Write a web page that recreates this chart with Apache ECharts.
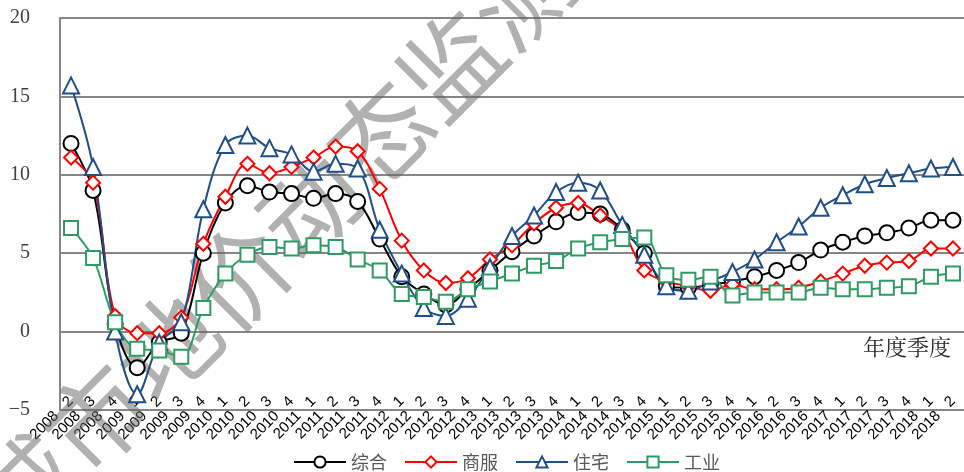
<!DOCTYPE html>
<html>
<head>
<meta charset="utf-8">
<script src="https://cdn.jsdelivr.net/npm/echarts@6/dist/echarts.min.js"></script>
<style>
  html, body { margin: 0; padding: 0; background: #fff; }
  #chart { width: 964px; height: 472px; }
</style>
</head>
<body>
<div id="chart"></div>
<script>
// 季度标签
const quarters = [
  '2008   2', '2008   3', '2008   4',
  '2009   1', '2009   2', '2009   3', '2009   4',
  '2010   1', '2010   2', '2010   3', '2010   4',
  '2011   1', '2011   2', '2011   3', '2011   4',
  '2012   1', '2012   2', '2012   3', '2012   4',
  '2013   1', '2013   2', '2013   3', '2013   4',
  '2014   1', '2014   2', '2014   3', '2014   4',
  '2015   1', '2015   2', '2015   3', '2015   4',
  '2016   1', '2016   2', '2016   3', '2016   4',
  '2017   1', '2017   2', '2017   3', '2017   4',
  '2018   1', '2018   2'
];

// 各用途地价增长率
const zonghe = [12.0, 9.0, 0.5, -2.3, -0.7, -0.1, 5.0, 8.2, 9.3, 8.9, 8.8, 8.5, 8.8, 8.3, 5.9, 3.5, 2.4, 1.7, 2.7, 3.9, 5.1,
  6.1, 7.0, 7.6, 7.5, 6.5, 5.0, 2.9, 2.8, 3.0, 3.2, 3.5, 3.9, 4.4, 5.2, 5.7, 6.1, 6.3, 6.6, 7.1, 7.1];
const shangfu = [11.1, 9.5, 1.0, -0.1, -0.1, 0.9, 5.6, 8.6, 10.7, 10.1, 10.5, 11.1, 11.8, 11.5, 9.1, 5.8, 3.9, 3.1, 3.4, 4.6, 5.5,
  6.9, 7.9, 8.2, 7.4, 6.4, 3.9, 3.2, 2.9, 2.6, 3.0, 2.7, 2.7, 2.8, 3.2, 3.7, 4.2, 4.4, 4.5, 5.3, 5.3];
const zhuzhai = [15.7, 10.5, 0.0, -4.0, -0.7, 0.6, 7.8, 11.9, 12.5, 11.7, 11.3, 10.2, 10.7, 10.4, 6.5, 3.7, 1.5, 1.0, 2.1, 4.1, 6.1,
  7.4, 8.9, 9.5, 9.0, 6.8, 4.9, 2.9, 2.6, 3.2, 3.8, 4.6, 5.7, 6.7, 7.9, 8.7, 9.4, 9.8, 10.1, 10.4, 10.5];
const gongye = [6.6, 4.7, 0.6, -1.1, -1.2, -1.6, 1.5, 3.7, 4.9, 5.4, 5.3, 5.5, 5.4, 4.6, 3.9, 2.4, 2.2, 1.9, 2.7, 3.2, 3.7,
  4.2, 4.5, 5.3, 5.7, 5.9, 6.0, 3.6, 3.3, 3.5, 2.3, 2.5, 2.5, 2.5, 2.8, 2.7, 2.7, 2.8, 2.9, 3.5, 3.7];

const yTicks = [-5, 0, 5, 10, 15, 20];

const chart = echarts.init(document.getElementById('chart'), null, { renderer: 'canvas' });

function line(name, data, color, symbol, size) {
  return {
    name: name,
    type: 'line',
    data: data,
    smooth: 0.35,
    symbol: symbol,
    symbolSize: size,
    showAllSymbol: true,
    z: 3,
    lineStyle: { color: color, width: 2 },
    itemStyle: { color: '#fff', borderColor: color, borderWidth: 2 },
    emphasis: { disabled: true }
  };
}

chart.setOption({
  animation: false,
  backgroundColor: '#fff',
  grid: { left: 60, top: 18, width: 914, height: 392 },
  legend: {
    left: 288,
    top: 448,
    itemWidth: 52,
    itemHeight: 14,
    itemGap: 17,
    textStyle: { fontSize: 18, color: '#595959', fontFamily: 'Noto Sans CJK SC' },
    data: ['综合', '商服', '住宅', '工业']
  },
  xAxis: [
    {
      type: 'category',
      data: quarters,
      axisLine: { onZero: true, lineStyle: { color: '#868686', width: 2 } },
      axisTick: { inside: true, length: 5, lineStyle: { color: '#868686', width: 1.5 } },
      axisLabel: { show: false },
      splitLine: { show: false }
    },
    {
      type: 'category',
      data: quarters,
      position: 'bottom',
      axisLine: { onZero: false, lineStyle: { color: '#868686', width: 2 } },
      axisTick: { show: false },
      axisLabel: {
        interval: 0,
        rotate: 45,
        margin: -11,
        fontSize: 15,
        color: '#000',
        fontFamily: 'Liberation Sans'
      }
    }
  ],
  yAxis: {
    type: 'value',
    min: yTicks[0],
    max: yTicks[yTicks.length - 1],
    interval: 5,
    axisLine: { show: true, lineStyle: { color: '#868686', width: 2 } },
    axisTick: { show: false },
    axisLabel: {
      margin: 30,
      fontSize: 20,
      color: '#404040',
      fontFamily: 'Liberation Serif',
      formatter: v => String(v).replace('-', '\u2212')
    },
    splitLine: { lineStyle: { color: '#868686', width: 2 } }
  },
  graphic: [
    {
      type: 'text',
      left: 863,
      top: 336,
      style: { text: '年度季度', fontSize: 22, fill: '#262626', fontFamily: 'Noto Serif CJK SC, Noto Sans CJK SC' }
    },
    {
      // 水印
      type: 'text',
      x: -9,
      y: 524,
      rotation: 0.785,
      z: 1,
      silent: true,
      style: {
        text: '城市地价动态监测',
        fontSize: 100,
        verticalAlign: 'middle',
        align: 'left',
        fill: 'rgba(100,100,100,0.5)',
        fontFamily: 'Noto Sans CJK SC'
      }
    }
  ],
  series: [
    line('综合', zonghe, '#000000', 'circle', 15),
    line('商服', shangfu, '#ff0000', 'diamond', 14),
    line('住宅', zhuzhai, '#1f4e89', 'triangle', 16),
    line('工业', gongye, '#2f9a62', 'rect', 14)
  ]
});
</script>
</body>
</html>
